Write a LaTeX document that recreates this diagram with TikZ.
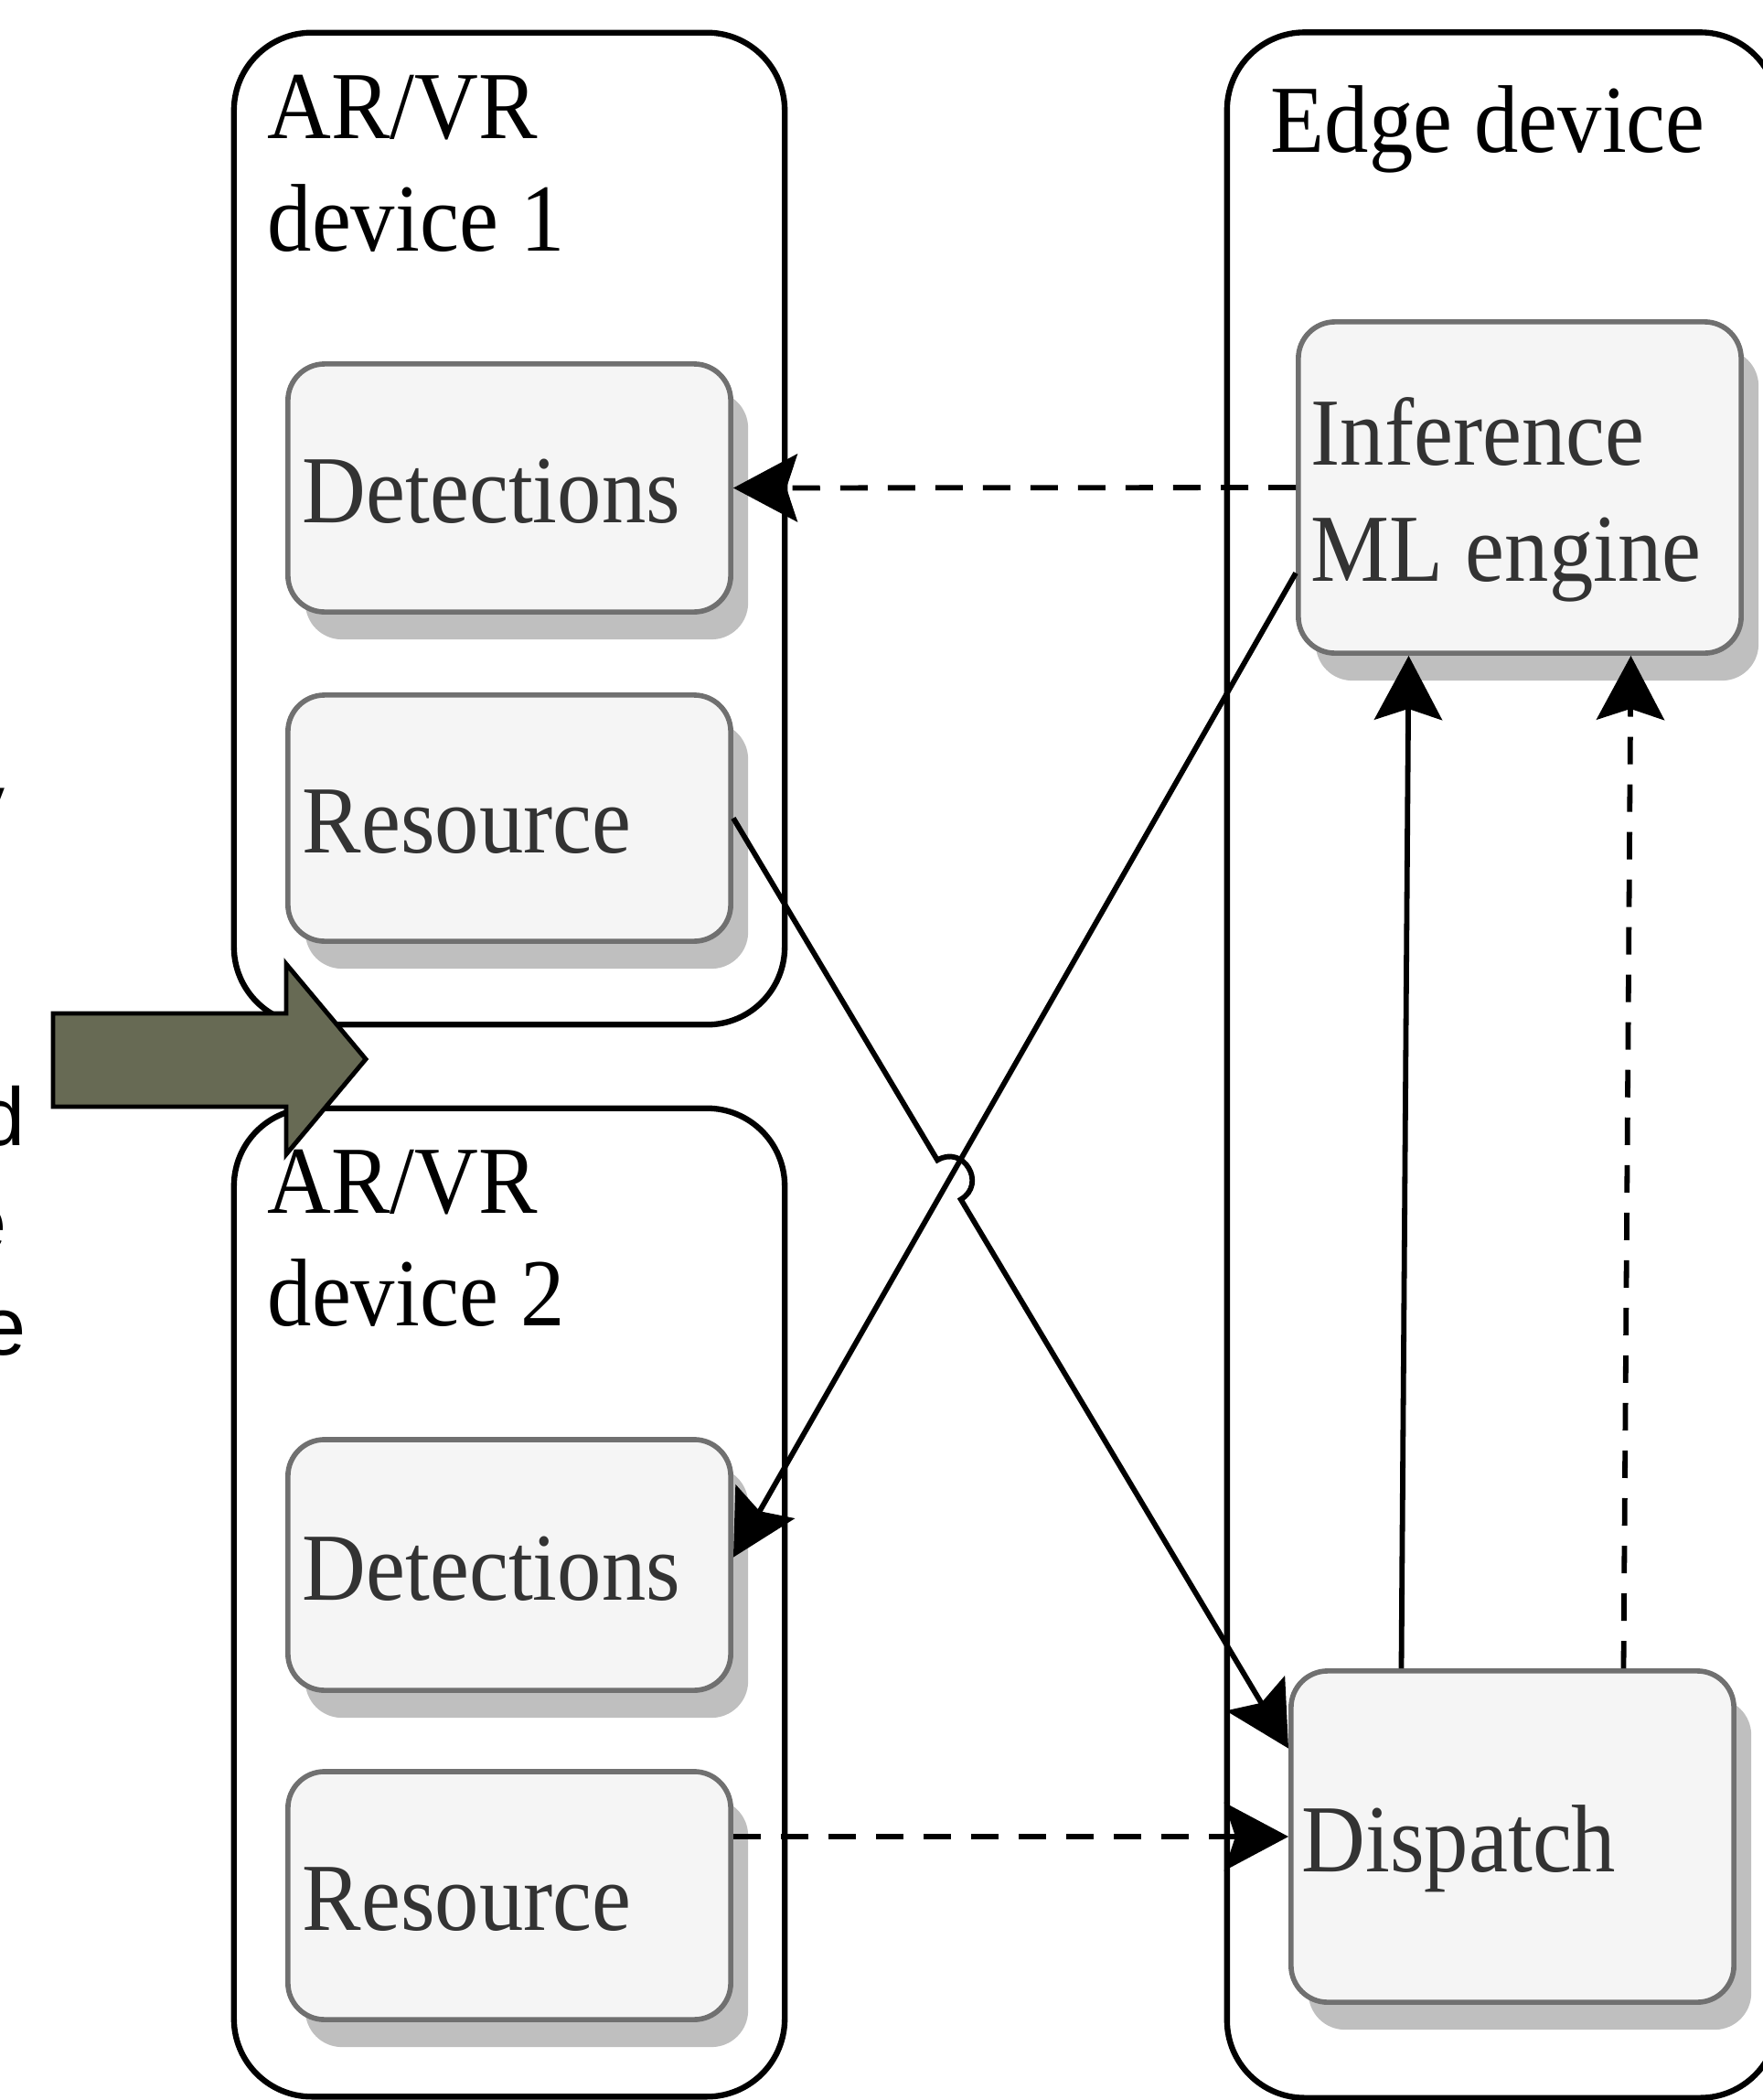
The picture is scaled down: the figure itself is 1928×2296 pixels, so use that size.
\documentclass[tikz,border=0pt]{standalone}
\usepackage{fontspec}
\setmainfont{Liberation Serif}
\newfontfamily\tnr[FakeStretch=0.92]{Liberation Serif}
\newfontfamily\arialf{Liberation Sans}
\usetikzlibrary{arrows.meta,calc,shadows}
\definecolor{innerfill}{HTML}{F5F5F5}
\definecolor{innerdraw}{HTML}{707070}
\definecolor{innertext}{HTML}{333333}
\definecolor{shadowc}{HTML}{BFBFBF}
\definecolor{olivefill}{RGB}{103,106,84}
\begin{document}
\begin{tikzpicture}[x=0.01cm,y=-0.01cm,
  outerbox/.style={draw=black, line width=1.8pt, rounded corners=0.85cm, inner sep=0pt, minimum width=6.02cm},
  innerbox/.style={draw=innerdraw, fill=innerfill, line width=1.6pt, rounded corners=0.4cm,
     minimum width=4.84cm, inner sep=0pt,
     drop shadow={shadow xshift=0.19cm, shadow yshift=-0.30cm, fill=shadowc, opacity=1}},
  outlabel/.style={font=\tnr\fontsize{29.87pt}{34.99pt}\selectfont, inner sep=0pt, anchor=base west, text=black},
  inlabel/.style={font=\tnr\fontsize{29.87pt}{36.13pt}\selectfont, inner sep=0pt, anchor=base west, text=innertext},
  conn/.style={line width=1.65pt, -{Stealth[length=7mm,width=7.4mm,inset=1.2mm]}},
  dashconn/.style={conn, dash pattern=on 0.30cm off 0.22cm},
  sidetext/.style={font=\arialf\fontsize{25.6pt}{30pt}\selectfont, inner sep=0pt, anchor=base east, text=black},
]
\useasboundingbox (0,0) rectangle (1928,2296);
\clip (0,0) rectangle (1928,2296);

% containers
\node[outerbox, minimum height=10.84cm] (dev1) at (557,578) {};
\node[outerbox, minimum height=10.80cm] (dev2) at (557,1752) {};
\node[outerbox, minimum height=22.57cm] (edge) at (1643,1164.5) {};

% container labels
\node[outlabel] (dev1lab) at (292,151) {\begin{tabular}[t]{@{}l@{}}AR/VR\\device 1\end{tabular}};
\node[outlabel] (dev2lab) at (292,1326) {\begin{tabular}[t]{@{}l@{}}AR/VR\\device 2\end{tabular}};
\node[outlabel] (edgelab) at (1389,166) {Edge device};

% inner boxes
\node[innerbox, minimum height=2.71cm] (det1) at (557,533.5) {};
\node[innerbox, minimum height=2.69cm] (res1) at (557,894.5) {};
\node[innerbox, minimum height=2.74cm] (det2) at (557,1711) {};
\node[innerbox, minimum height=2.71cm] (res2) at (557,2072.5) {};
\node[innerbox, minimum height=3.62cm] (infer) at (1662,533) {};
\node[innerbox, minimum height=3.62cm] (disp) at (1654,2008) {};

% inner texts
\node[inlabel] (det1t) at ($(det1.west)+(18,38)$) {Detections};
\node[inlabel] (res1t) at ($(res1.west)+(18,38)$) {Resource};
\node[inlabel] (det2t) at ($(det2.west)+(18,38)$) {Detections};
\node[inlabel] (res2t) at ($(res2.west)+(18,38)$) {Resource};
\node[inlabel] (infert) at ($(infer.west)+(16,-25)$) {\begin{tabular}[t]{@{}l@{}}Inference\\ML engine\end{tabular}};
\node[inlabel] (dispt) at ($(disp.west)+(14,38)$) {Dispatch};

% connector end points
\coordinate (i2) at ($(infer.north west)!0.754!(infer.south west)$);
\coordinate (d2e) at ($(det2.north east)!0.47!(det2.south east)$);
\coordinate (r1e) at (res1.east);
\coordinate (dh) at ($(disp.north west)!0.238!(disp.south west)$);
\coordinate (X) at (intersection of r1e--dh and i2--d2e);
\coordinate (hA) at ($(X)!0.25cm!(r1e)$);
\coordinate (hB) at ($(X)!0.25cm!(dh)$);
\coordinate (dispA) at ($(disp.north west)!0.252!(disp.north east)$);
\coordinate (dispB) at ($(disp.north west)!0.748!(disp.north east)$);
\coordinate (infA) at ($(infer.south west)!0.252!(infer.south east)$);
\coordinate (infB) at ($(infer.south west)!0.748!(infer.south east)$);

% connectors
\draw[dashconn] (infer.west) -- (det1.east);
\draw[conn] (i2) -- (d2e);
\draw[conn] (r1e) -- (hA) .. controls ($(hA)!0.333cm!90:(X)$) and ($(hB)!0.333cm!-90:(X)$) .. (hB) -- (dh);
\draw[dashconn] (res2.east |- disp.west) -- (disp.west);
\draw[conn] (dispA) -- (infA);
\draw[dashconn] (dispB) -- (infB);

% block arrow
\draw[line width=1.4pt, fill=olivefill, line join=miter]
  (58,1108) -- (313,1108) -- (313,1054) -- (400,1158) -- (313,1262) -- (313,1210) -- (58,1210) -- cycle;

% cut-off text at the left edge
\node[sidetext] (sy) at (6,909) {y};
\node[sidetext] (sd) at (28,1252) {d};
\node[sidetext] (se1) at (8,1367) {e};
\node[sidetext] (se2) at (29,1481) {e};
\end{tikzpicture}
\end{document}
